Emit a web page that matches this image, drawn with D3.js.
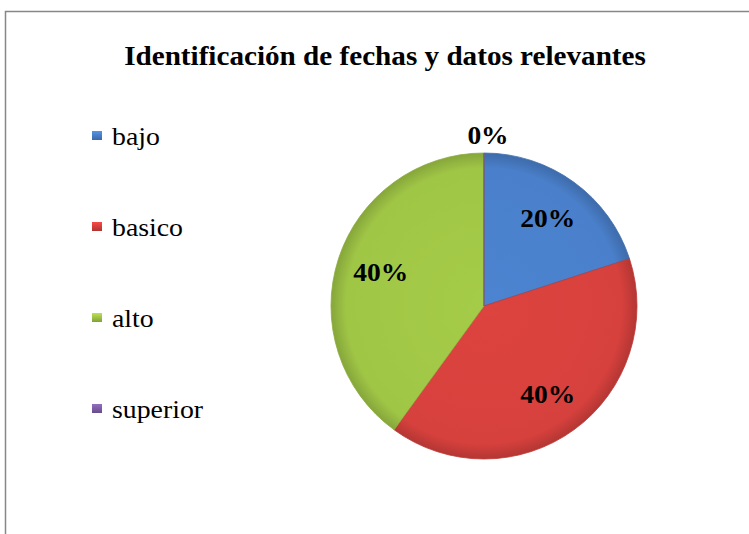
<!DOCTYPE html>
<html>
<head>
<meta charset="utf-8">
<script src="https://cdn.jsdelivr.net/npm/d3@7"></script>
<style>
  html, body { margin: 0; padding: 0; background: #fff; }
  svg { display: block; }
</style>
</head>
<body>
<div id="container"></div>
<script>
const categories = ['bajo', 'basico', 'alto', 'superior'];
const values = [20, 40, 40, 0];
const labels = ['20%', '40%', '40%', '0%'];
const colors = ['#4a80cb', '#d7413d', '#a0c646', '#7f5fa8'];

const width = 749;
const height = 534;
const cx = 484;
const cy = 306;
const radius = 153;
const fontFamily = "'Liberation Serif'";

const svg = d3.select('#container')
  .append('svg')
  .attr('width', width)
  .attr('height', height);

// chart frame (right and bottom edges fall outside the picture)
svg.append('rect')
  .attr('x', 5.5)
  .attr('y', 11.5)
  .attr('width', 760)
  .attr('height', 540)
  .attr('fill', '#fff')
  .attr('stroke', '#878787')
  .attr('stroke-width', 1.5);

svg.append('text')
  .attr('transform', 'translate(385,65) scale(1.08,1)')
  .attr('text-anchor', 'middle')
  .style('font-family', fontFamily)
  .style('font-weight', 'bold')
  .style('font-size', '27px')
  .text('Identificación de fechas y datos relevantes');

// gradients for slice shading
const defs = svg.append('defs');
colors.forEach((c, i) => {
  const g = defs.append('radialGradient')
    .attr('id', `grad${i}`)
    .attr('gradientUnits', 'userSpaceOnUse')
    .attr('cx', 0).attr('cy', 0).attr('r', radius);
  g.append('stop').attr('offset', '0%').attr('stop-color', d3.color(c).brighter(0.08));
  g.append('stop').attr('offset', '90%').attr('stop-color', c);
  g.append('stop').attr('offset', '100%').attr('stop-color', d3.color(c).darker(0.5));

  const lg = defs.append('linearGradient')
    .attr('id', `lgrad${i}`)
    .attr('x1', 0).attr('y1', 0).attr('x2', 0).attr('y2', 1);
  lg.append('stop').attr('offset', '0%').attr('stop-color', d3.color(c).brighter(0.4));
  lg.append('stop').attr('offset', '100%').attr('stop-color', d3.color(c).darker(0.6));
});

const pie = d3.pie().sort(null).value((d) => d);
const arcs = pie(values);
const arc = d3.arc().innerRadius(0).outerRadius(radius);
const labelArc = d3.arc().innerRadius(radius * 0.71).outerRadius(radius * 0.71);

const g = svg.append('g').attr('transform', `translate(${cx},${cy})`);

g.selectAll('path')
  .data(arcs)
  .enter()
  .append('path')
  .attr('d', arc)
  .attr('fill', (d, i) => `url(#grad${i})`)
  .attr('stroke', (d, i) => d3.color(colors[i]).darker(0.4))
  .attr('stroke-width', 0.8);

// data labels; the empty slice label sits just outside the pie
g.selectAll('text.lbl')
  .data(arcs)
  .enter()
  .append('text')
  .attr('class', 'lbl')
  .attr('transform', (d) => {
    let [x, y] = labelArc.centroid(d);
    if (d.value === 0) {
      x = 4;
      y = -(radius + 18);
    }
    return `translate(${x},${y}) scale(1.1,1)`;
  })
  .attr('dy', '0.35em')
  .attr('text-anchor', 'middle')
  .style('font-family', fontFamily)
  .style('font-weight', 'bold')
  .style('font-size', '25px')
  .text((d, i) => labels[i]);

// legend
const legendY = d3.scalePoint().domain(categories).range([136, 409]);
const legend = svg.append('g')
  .selectAll('g')
  .data(categories)
  .enter()
  .append('g')
  .attr('transform', (d) => `translate(92,${legendY(d)})`);

legend.append('rect')
  .attr('x', 0)
  .attr('y', -5)
  .attr('width', 10)
  .attr('height', 9)
  .attr('fill', (d, i) => `url(#lgrad${i})`);

legend.append('text')
  .attr('transform', 'translate(20,0) scale(1.07,1)')
  .attr('dy', '0.33em')
  .style('font-family', fontFamily)
  .style('font-size', '26px')
  .text((d) => d);
</script>
</body>
</html>
